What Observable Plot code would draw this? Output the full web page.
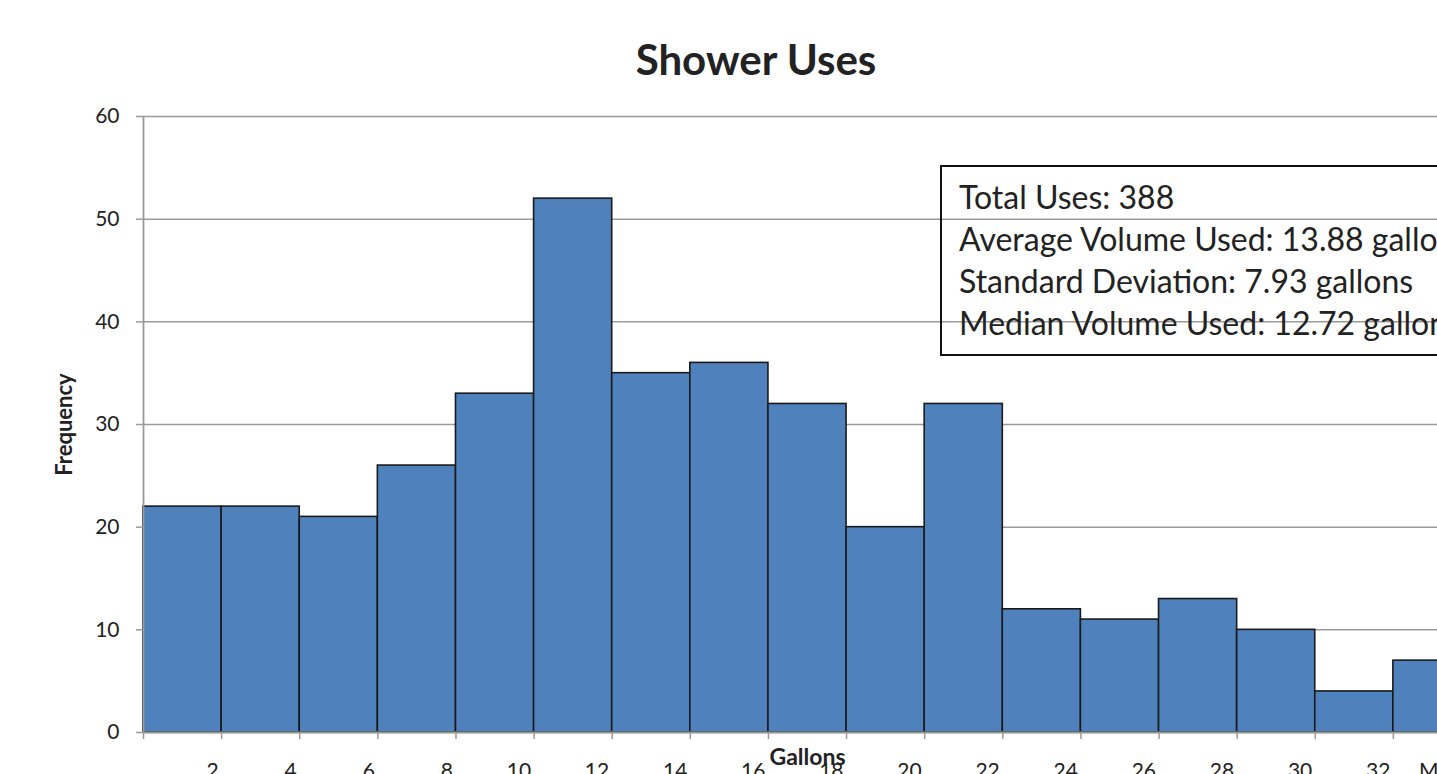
<!DOCTYPE html>
<html>
<head>
<meta charset="utf-8">
<script src="https://cdn.jsdelivr.net/npm/d3@7"></script>
<script src="https://cdn.jsdelivr.net/npm/@observablehq/plot@0.6"></script>
<style>
  html, body { margin: 0; padding: 0; background: #fff; overflow: hidden; }
  body { font-family: Lato, "Open Sans", sans-serif; color: #222; }
  #wrap { position: relative; width: 1512px; }
  #title { height: 90px; width: 1512px; text-align: center; font-weight: bold; font-size: 42px; color: #222; }
  #title span { display: inline-block; line-height: 1; padding-top: 38px; }
  #stats { position: absolute; left: 940px; top: 165px; width: 560px; height: 191px; border: 2px solid #111; box-sizing: border-box; padding: 9px 0 0 17px; font-size: 32px; line-height: 42px; color: #222; }
</style>
</head>
<body>
<div id="wrap">
  <div id="title"><span>Shower Uses</span></div>
  <div id="chart"></div>
  <div id="stats"></div>
</div>
<script>
// Bin edges in gallons (2-gallon bins; the last bin is the open-ended "More")
const binStart = [0, 2, 4, 6, 8, 10, 12, 14, 16, 18, 20, 22, 24, 26, 28, 30, 32];
const binEnd   = [2, 4, 6, 8, 10, 12, 14, 16, 18, 20, 22, 24, 26, 28, 30, 32, 34];
// Number of shower uses in each bin
const frequency = [22, 22, 21, 26, 33, 52, 35, 36, 32, 20, 32, 12, 11, 13, 10, 4, 7];
// Bin labels shown under the right edge of each bar
const binLabels = ["2", "4", "6", "8", "10", "12", "14", "16", "18", "20", "22", "24", "26", "28", "30", "32", "More"];
const yTicks = [0, 10, 20, 30, 40, 50, 60];
// Summary statistics
const avgVolume = 13.88;
const stdDev = 7.93;
const medianVolume = 12.72;

const bins = binStart.map((s, i) => ({start: s, end: binEnd[i], freq: frequency[i], label: binLabels[i]}));
const totalUses = d3.sum(frequency);

const statLines = [
  `Total Uses: ${totalUses}`,
  `Average Volume Used: ${avgVolume.toFixed(2)} gallons`,
  `Standard Deviation: ${stdDev.toFixed(2)} gallons`,
  `Median Volume Used: ${medianVolume.toFixed(2)} gallons`
];
document.getElementById("stats").innerHTML = statLines.map(t => `<div style="white-space:nowrap">${t}</div>`).join("");

const axisGrey = "#9a9a9a";

const chart = Plot.plot({
  width: 1500,
  height: 700,
  marginLeft: 143,
  marginRight: 29,
  marginTop: 26,
  marginBottom: 58,
  style: {fontFamily: "Lato, 'Open Sans', sans-serif", color: "#222", background: "#fff", overflow: "visible"},
  x: {type: "linear", domain: [0, 34], axis: null},
  y: {type: "linear", domain: [0, 60], axis: null},
  marks: [
    // horizontal gridlines
    Plot.gridY(yTicks, {stroke: axisGrey, strokeOpacity: 1, strokeWidth: 1.5}),
    // histogram bars
    Plot.rectY(bins, {x1: "start", x2: "end", y: "freq", fill: "#4F81BD", stroke: "#1a1a1a", strokeWidth: 1.6}),
    // axis lines
    Plot.ruleX([0], {stroke: axisGrey, strokeWidth: 1.8}),
    Plot.ruleY([0], {x1: 0, x2: 34, stroke: axisGrey, strokeWidth: 1.8}),
    // y axis ticks and labels
    Plot.axisY(yTicks, {tickSize: 7, tickPadding: 17, stroke: axisGrey, strokeWidth: 1.5, fill: "#222", fontSize: 21, tickFormat: d => d, label: null}),
    // x axis ticks at bin edges (labels drawn separately)
    Plot.axisX([0, ...binEnd], {tickSize: 7, stroke: axisGrey, strokeWidth: 1.5, tickFormat: () => "", label: null}),
    Plot.text(bins, {x: "end", y: 0, text: "label", textAnchor: "end", dx: -3, dy: 39, fontSize: 21, fill: "#222"}),
    // axis titles
    Plot.text(["Gallons"], {x: 17, y: 0, dy: 25, text: d => d, fontWeight: "bold", fontSize: 23, fill: "#222"}),
    Plot.text(["Frequency"], {frameAnchor: "left", textAnchor: "middle", dx: -79, y: 30, text: d => d, rotate: -90, fontWeight: "bold", fontSize: 22, fill: "#222"})
  ]
});

document.getElementById("chart").appendChild(chart);
</script>
</body>
</html>
